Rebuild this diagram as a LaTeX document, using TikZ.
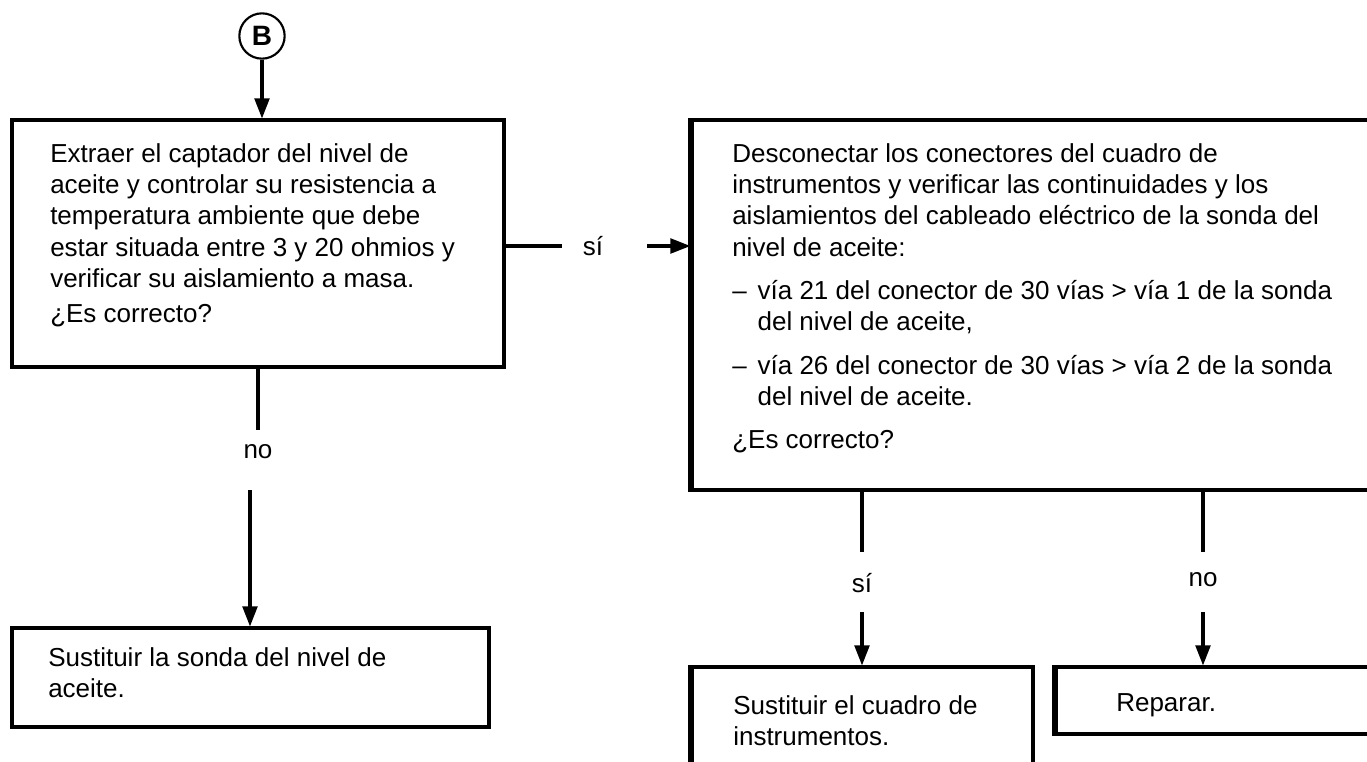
\documentclass[tikz,border=0pt]{standalone}
\usepackage{fontspec}
\setmainfont{Liberation Sans}
\usetikzlibrary{positioning,arrows.meta,fit,calc}

\newcommand{\dashitem}{\makebox[19pt][l]{–}}
\newcommand{\dashcont}{\hspace*{19pt}}

\begin{document}
\begin{tikzpicture}[
  x=0.75pt, y=-0.75pt,
  chkbox/.style={draw=black, line width=2.3pt, inner sep=0pt},
  chktxt/.style={anchor=north west, align=left, inner sep=0pt, font={\fontsize{19.5}{23.5}\selectfont}},
  yn/.style={inner sep=0pt, font={\fontsize{19.5}{23.5}\selectfont}},
  link/.style={line width=2.3pt},
  arr/.style={link, -{Triangle[length=15pt, width=11pt]}},
  leftedge/.style={line width=3.8pt}
]
\useasboundingbox (0,0) rectangle (1367,761);
\clip (0,0) rectangle (1367,761);

% boxes
\node[chkbox, fit={(12,120) (504,367)}] (b1) {};
\node[chkbox, fit={(692,120) (1390,490)}] (b2) {};
\node[chkbox, fit={(12,628) (489,727)}] (b3) {};
\node[chkbox, fit={(692,667) (1033,790)}] (b4) {};
\node[chkbox, fit={(1056,667) (1390,734)}] (b5) {};
\foreach \b in {b2,b4,b5}
  \draw[leftedge] (\b.north west) -- (\b.south west);

% texts
\node[chktxt] (t1) at (50,143) {Extraer el captador del nivel de\\
  aceite y controlar su resistencia a\\
  temperatura ambiente que debe\\
  estar situada entre 3 y 20 ohmios y\\
  verificar su aislamiento a masa.\\[3pt]
  ¿Es correcto?};
\node[chktxt] (t2) at (732,143) {Desconectar los conectores del cuadro de\\
  instrumentos y verificar las continuidades y los\\
  aislamientos del cableado eléctrico de la sonda del\\
  nivel de aceite:\\[9pt]
  \dashitem vía 21 del conector de 30 vías > vía 1 de la sonda\\
  \dashcont del nivel de aceite,\\[9pt]
  \dashitem vía 26 del conector de 30 vías > vía 2 de la sonda\\
  \dashcont del nivel de aceite.\\[9pt]
  ¿Es correcto?};
\node[chktxt] (t3) at (48,647) {Sustituir la sonda del nivel de\\aceite.};
\node[chktxt] (t4) at (733,695) {Sustituir el cuadro de\\instrumentos.};
\node[chktxt] (t5) at (1116,693) {Reparar.};

% start
\node[circle, draw=black, line width=1.6pt, minimum size=34pt, inner sep=0pt,
  font={\bfseries\fontsize{21}{21}\selectfont}] (B) at (262,36) {B};
\draw[arr] (B) -- (B |- b1.north);

% yes / no
\node[yn] (s1) at (593,246) {sí};
\coordinate (c1) at (562,246);
\coordinate (c2) at (647,246);
\draw[link] (b1.east |- c1) -- (c1);
\draw[arr] (c2) -- (b2.west |- c2);

\node[yn] (n1) at (258,452) {no};
\coordinate (c3) at (258,430);
\coordinate (c4) at (250,490);
\draw[link] (b1.south) -- (c3);
\draw[arr] (c4) -- (b3.north -| c4);

\node[yn] (s2) at (862,583) {sí};
\coordinate (c5) at (862,552);
\coordinate (c6) at (862,612);
\draw[link] (b2.south -| c5) -- (c5);
\draw[arr] (c6) -- (b4.north -| c6);

\node[yn] (n2) at (1203,580) {no};
\coordinate (c7) at (1203,552);
\coordinate (c8) at (1203,612);
\draw[link] (b2.south -| c7) -- (c7);
\draw[arr] (c8) -- (b5.north -| c8);
\end{tikzpicture}
\end{document}
